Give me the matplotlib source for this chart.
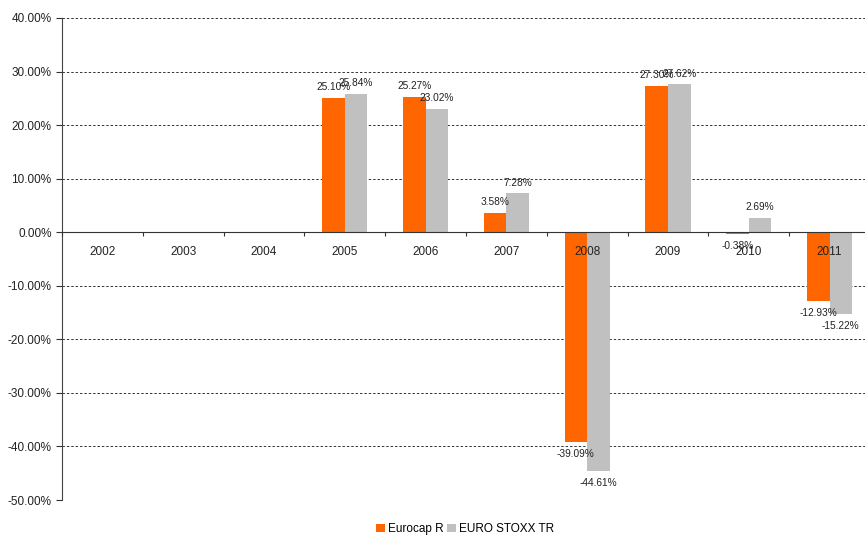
import numpy as np
import matplotlib.pyplot as plt
from matplotlib.ticker import FuncFormatter

plt.rcParams["font.family"] = ["Liberation Sans", "DejaVu Sans"]

years = ["2002", "2003", "2004", "2005", "2006", "2007", "2008", "2009", "2010", "2011"]
eurocap = [np.nan, np.nan, np.nan, 25.10, 25.27, 3.58, -39.09, 27.30, -0.38, -12.93]
eurostoxx = [np.nan, np.nan, np.nan, 25.84, 23.02, 7.28, -44.61, 27.62, 2.69, -15.22]
series_names = ["Eurocap R", "EURO STOXX TR"]
colors = ["#ff6600", "#c0c0c0"]

fig = plt.figure(figsize=(8.65, 5.37), dpi=100)
# plot area runs a few pixels past the right edge, like the original export
ax = fig.add_axes([0.0717, 0.0689, 0.934, 0.8976])

x = np.arange(len(years))
w = 0.28
bars = []
for k, (vals, name, c) in enumerate(zip([eurocap, eurostoxx], series_names, colors)):
    off = (k - 0.5) * w
    b = ax.bar(x + off, vals, w, color=c, label=name, zorder=3)
    bars.append(b)
    for xi, v in zip(x, vals):
        if np.isnan(v):
            continue
        ax.annotate("{:.2f}%".format(v), (xi + off, v),
                    xytext=(0, 4 if v >= 0 else -5), textcoords="offset points",
                    ha="center", va="bottom" if v >= 0 else "top",
                    fontsize=7.3, color="#222222", zorder=6)

ax.set_xlim(-0.5, len(years) - 0.5)
ax.set_ylim(-50, 40)
ax.set_yticks(np.arange(-50, 41, 10))
ax.yaxis.set_major_formatter(FuncFormatter(lambda v, p: "{:.2f}%".format(v)))
ax.tick_params(axis="y", labelsize=8.5, length=4, colors="#333333", labelcolor="#222222")
ax.yaxis.grid(True, linestyle=(0, (2.5, 2)), color="#333333", linewidth=0.7)
ax.set_axisbelow(True)
# year labels have to sit on top of the bars (2008, 2011)
ax.xaxis.set_zorder(5)

for s in ["top", "right"]:
    ax.spines[s].set_visible(False)
ax.spines["left"].set_color("#444444")
ax.spines["bottom"].set_position(("data", 0))
ax.spines["bottom"].set_color("#333333")
ax.spines["bottom"].set_zorder(4)

ax.set_xticks(np.arange(-0.5, len(years), 1.0))
ax.set_xticklabels([])
ax.set_xticks(x, minor=True)
ax.set_xticklabels(years, minor=True)
ax.tick_params(axis="x", which="major", length=3, direction="out", colors="#333333")
ax.tick_params(axis="x", which="minor", length=0, pad=10, labelsize=8.5, labelcolor="#222222")

fig.legend(handles=bars, labels=series_names, loc="lower center",
           bbox_to_anchor=(0.538, -0.016), ncol=2, frameon=False, fontsize=8.5,
           handlelength=0.7, handleheight=0.7, handletextpad=0.3, columnspacing=0.3)

fig.savefig("out.png", dpi=100)
